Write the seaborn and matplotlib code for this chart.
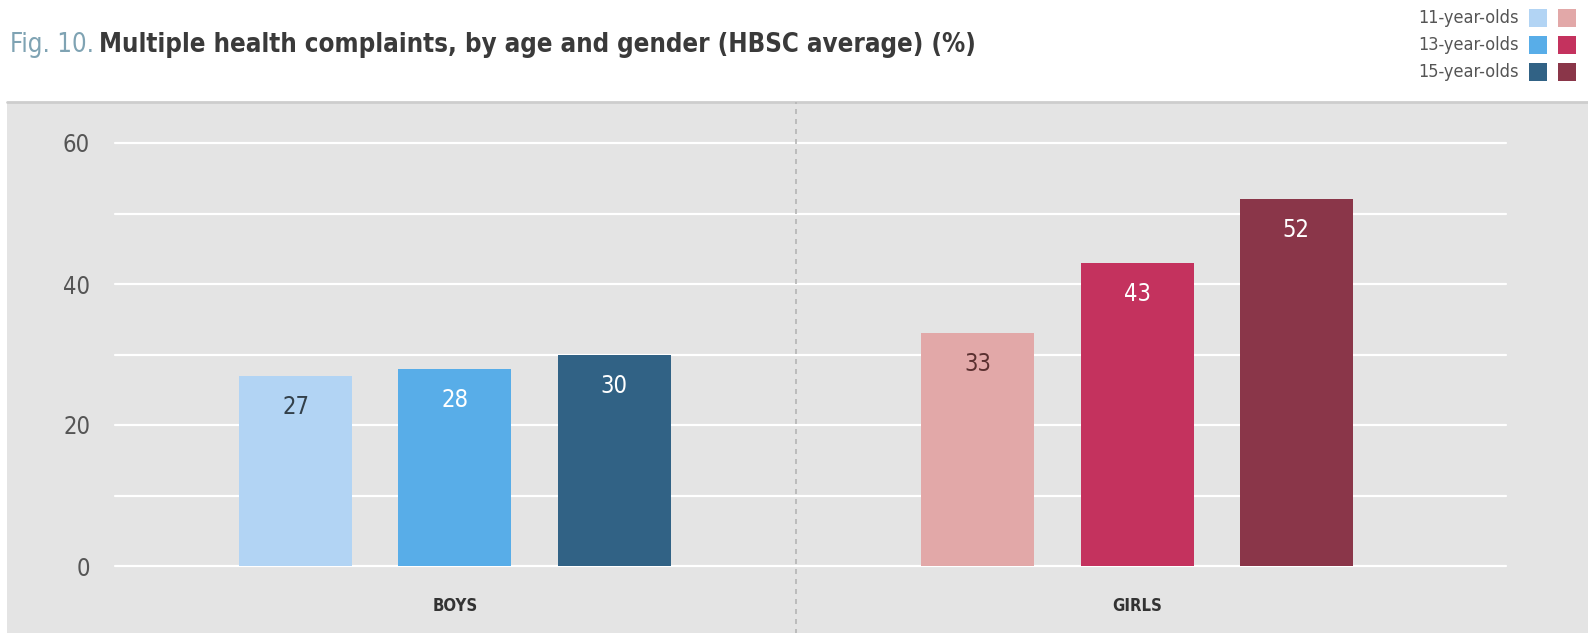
import pandas as pd
import matplotlib.pyplot as plt
import seaborn as sns
from matplotlib.patches import Rectangle
from matplotlib.lines import Line2D

# Data
genders = ["BOYS", "GIRLS"]
ages = ["11-year-olds", "13-year-olds", "15-year-olds"]
boys = [27, 28, 30]
girls = [33, 43, 52]
yticks = [0, 10, 20, 30, 40, 50, 60]
ytick_labels = ["0", "", "20", "", "40", "", "60"]

boys_colors = ["#b2d4f4", "#58ade8", "#316285"]
girls_colors = ["#e2a8a8", "#c4325e", "#8a3649"]
label_colors = [["#33404a", "#ffffff", "#ffffff"], ["#5a3030", "#ffffff", "#ffffff"]]

df = pd.DataFrame({
    "gender": [g for g in genders for _ in ages],
    "age": ages * 2,
    "value": boys + girls,
})

sns.set_style("white")
plt.rcParams["font.family"] = ["DejaVu Sans"]
plt.rcParams["font.stretch"] = "condensed"

W, H = 1588, 633
fig = plt.figure(figsize=(W / 100, H / 100), dpi=100)

# gray panel behind the plot
fig.patches.append(Rectangle((7 / W, 0), 1 - 7 / W, (H - 102) / H, transform=fig.transFigure,
                             facecolor="#e4e4e4", edgecolor="none", zorder=-10))
fig.lines.append(Line2D([7 / W, 1], [(H - 102) / H] * 2, transform=fig.transFigure,
                        color="#cdcdcd", lw=2, zorder=-9))

left, right = 115 / W, 1506 / W
bottom, top = (H - 566) / H, (H - 143) / H
ax = fig.add_axes([left, bottom, right - left, top - bottom])
ax.set_facecolor("none")

sns.barplot(data=df, x="gender", y="value", hue="age", hue_order=ages, order=genders,
            palette=boys_colors, width=0.7, gap=0.29, saturation=1, linewidth=0,
            legend=False, ax=ax, zorder=3)

# recolor the girls bars and write the values inside
for i, cont in enumerate(ax.containers):
    cont[1].set_facecolor(girls_colors[i])
    texts = ax.bar_label(cont, padding=-31, fontsize=17)
    for j, t in enumerate(texts):
        t.set_color(label_colors[j][i])

ax.set_xlim(-0.4985, 1.541)
ax.set_ylim(0, 60)
ax.set_yticks(yticks)
ax.set_yticklabels(ytick_labels)
ax.yaxis.grid(True, color="white", lw=1.6, zorder=0)
ax.set_axisbelow(True)
for sp in ax.spines.values():
    sp.set_visible(False)
ax.tick_params(axis="y", length=0, pad=18, labelsize=17, labelcolor="#555555")
ax.tick_params(axis="x", length=0, pad=22, labelsize=12, labelcolor="#333333")
for lab in ax.get_xticklabels():
    lab.set_fontweight("bold")
ax.set_xlabel("")
ax.set_ylabel("")
for line in ax.get_ygridlines():
    line.set_clip_on(False)

# dashed divider between the groups
ax.axvline(0.5, ymin=-0.16, ymax=1.097, color="#b5b5b5", lw=1.2, ls=(0, (3, 3)), clip_on=False, zorder=1)

# title in two colours
t1 = fig.text(10 / W, 1 - 45 / H, "Fig. 10.", fontsize=18.5, color="#7fa3b3", va="center")
fig.canvas.draw()
bb = t1.get_window_extent(fig.canvas.get_renderer())
fig.text((bb.x1 + 5) / W, 1 - 45 / H, "Multiple health complaints, by age and gender (HBSC average) (%)",
         fontsize=18.5, color="#3a3a3a", fontweight="bold", va="center")

# legend at top right
for k, age in enumerate(ages):
    yc = 1 - (18 + k * 27) / H
    fig.text(1519 / W, yc, age, ha="right", va="center", fontsize=13, color="#555555")
    fig.patches.append(Rectangle((1529 / W, yc - 9 / H), 18 / W, 18 / H, transform=fig.transFigure,
                                 facecolor=boys_colors[k], edgecolor="none"))
    fig.patches.append(Rectangle((1558 / W, yc - 9 / H), 18 / W, 18 / H, transform=fig.transFigure,
                                 facecolor=girls_colors[k], edgecolor="none"))

fig.savefig("out.png", dpi=100, facecolor="white")
